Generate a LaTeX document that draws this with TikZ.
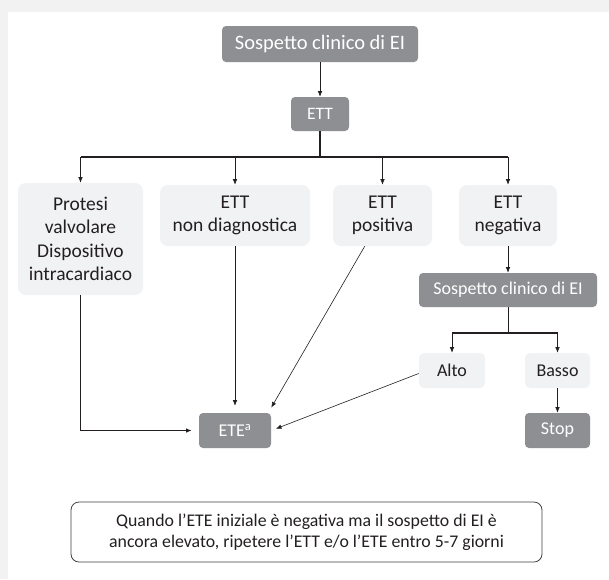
\documentclass[tikz,border=0pt]{standalone}
\usepackage{fontspec}
\setmainfont{Carlito}
\usepackage{xcolor}
\usepackage{tikz}
\usetikzlibrary{positioning,arrows.meta}
\definecolor{boxdark}{RGB}{142,143,146}
\definecolor{boxlight}{RGB}{241,242,244}
\definecolor{inkgray}{RGB}{35,31,32}
\definecolor{shadowgray}{RGB}{242,242,242}

\begin{document}
\begin{tikzpicture}[x=1pt,y=-1pt,>={Latex[length=5.5pt,width=4.5pt]},line width=0.6pt,draw=inkgray]
\tikzstyle{dark}=[rectangle,fill=boxdark,text=white,rounded corners=4pt,inner sep=0pt,align=center]
\tikzstyle{light}=[rectangle,fill=boxlight,text=inkgray,rounded corners=8pt,inner sep=0pt,align=center,font=\fontsize{19.5}{23.5}\selectfont]
\tikzstyle{small}=[font=\fontsize{18}{21}\selectfont]
\tikzstyle{bar}=[line width=1.2pt]
% background
\useasboundingbox (0,0) rectangle (609,579);
\fill[shadowgray] (0,0) rectangle (609,579);
\fill[white] (8,12) rectangle (609,579);
% nodes
\node[dark,minimum width=196pt,minimum height=36pt,font=\fontsize{20.5}{24}\selectfont] (top) at (320,44) {Sospetto clinico di EI};
\node[dark,minimum width=58pt,minimum height=34pt,font=\fontsize{17.5}{21}\selectfont] (ett) at (320,114) {ETT};
\node[light,minimum width=125pt,minimum height=112pt] (prot) at (80.5,239) {Protesi\\valvolare\\Dispositivo\\intracardiaco};
\node[light,minimum width=150pt,minimum height=61pt] (nondiag) at (235,215.5) {ETT\\non diagnostica};
\node[light,minimum width=99pt,minimum height=61pt] (pos) at (382.5,215.5) {ETT\\positiva};
\node[light,minimum width=98pt,minimum height=61pt] (neg) at (508,215.5) {ETT\\negativa};
\node[dark,small,minimum width=178pt,minimum height=34pt] (sosp) at (508,290) {Sospetto clinico di EI};
\node[light,small,minimum width=66pt,minimum height=35pt,rounded corners=5pt] (alto) at (452,370.5) {Alto};
\node[light,small,minimum width=65pt,minimum height=35pt,rounded corners=5pt] (basso) at (557.5,370.5) {Basso};
\node[dark,small,minimum width=65pt,minimum height=35pt] (stop) at (557.5,430.5) {Stop};
\node[dark,small,minimum width=72pt,minimum height=35pt] (ete) at (235,430.5) {ETE\textsuperscript{a}};
\node[rectangle,draw=black!75,line width=0.8pt,rounded corners=8pt,minimum width=471pt,minimum height=60pt,align=center,text=inkgray,font=\fontsize{17.8}{21.5}\selectfont] (note) at (306.5,532) {Quando l’ETE iniziale è negativa ma il sospetto di EI è\\ancora elevato, ripetere l’ETT e/o l’ETE entro 5-7 giorni};
\coordinate (split) at (320,157);
\coordinate (split2) at (508,333);
% connectors
\draw[->] (top) -- (ett);
\draw[bar] (ett) -- (split);
\draw[bar] (prot.north |- split) -- (neg.north |- split);
\foreach \n in {prot,nondiag,pos,neg}
  \draw[->] (\n.north |- split) -- (\n);
\draw[->] (neg) -- (sosp);
\draw (sosp) -- (split2);
\draw[bar] (alto.north |- split2) -- (basso.north |- split2);
\foreach \n in {alto,basso}
  \draw[->] (\n.north |- split2) -- (\n);
\draw[->] (basso) -- (stop);
\draw[bar,->,shorten >=7pt] (prot) |- (ete);
\draw[->,shorten >=7pt] (nondiag) -- (ete);
\draw[->,shorten >=6pt] (pos) -- ([xshift=-3pt]ete.north east);
\draw[->,shorten >=5pt] ([yshift=-3pt]alto.west) -- (ete.east);
\end{tikzpicture}
\end{document}
